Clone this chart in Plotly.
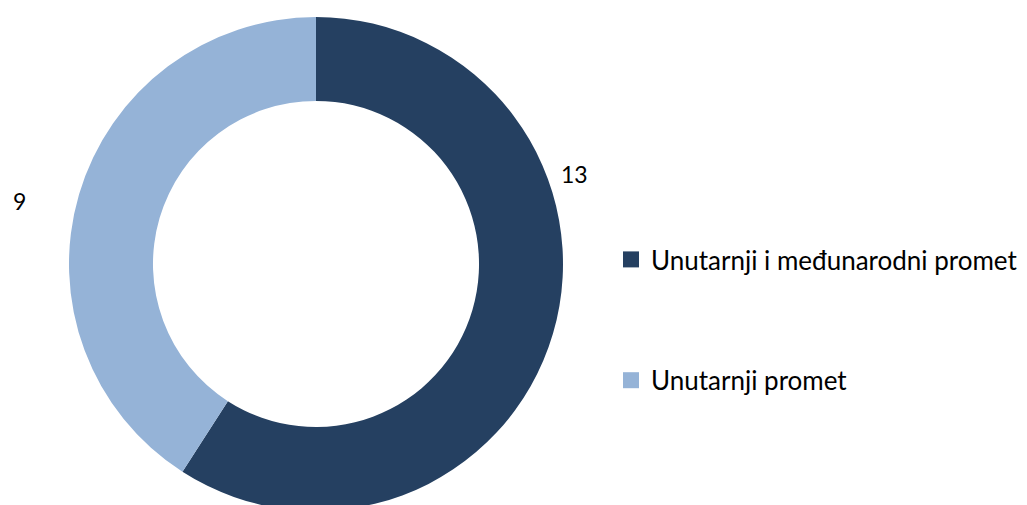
import plotly.graph_objects as go

categories = ["Unutarnji i međunarodni promet", "Unutarnji promet"]
values = [13, 9]
colors = ["#254061", "#95B3D7"]

W, H = 1027, 505
FONT = "Lato, 'Open Sans', sans-serif"

fig = go.Figure()
fig.add_trace(go.Pie(
    labels=categories, values=values, sort=False, direction="clockwise",
    rotation=0, hole=0.66, textinfo="none", hoverinfo="label+value",
    marker=dict(colors=colors, line=dict(width=0)), showlegend=False,
    domain=dict(x=[61 / W, 555 / W], y=[2 / H, 496 / H]),
))
# legend entries
for i, (c, col) in enumerate(zip(categories, colors)):
    fig.add_trace(go.Scatter(
        x=[None], y=[None], mode="markers", name=c, legendgroup=f"g{i}",
        marker=dict(symbol="square", size=16, color=col),
    ))

# value labels
label_pos = [(566, 166), (11, 193)]
for v, (px, py) in zip(values, label_pos):
    fig.add_annotation(x=px / W, y=1 - py / H, xref="paper", yref="paper",
                       xanchor="center", yanchor="middle",
                       text=str(v), showarrow=False,
                       font=dict(size=23, color="#000000", family=FONT))

fig.update_layout(
    width=W, height=H, margin=dict(l=0, r=0, t=0, b=0),
    paper_bgcolor="white", plot_bgcolor="white",
    xaxis=dict(visible=False), yaxis=dict(visible=False),
    legend=dict(x=603 / W, xanchor="left", y=1 - 312 / H, yanchor="middle",
                traceorder="grouped", tracegroupgap=84,
                font=dict(size=26, color="#000000", family=FONT),
                itemwidth=30),
    font=dict(family=FONT),
)
fig.write_html("out.html")
